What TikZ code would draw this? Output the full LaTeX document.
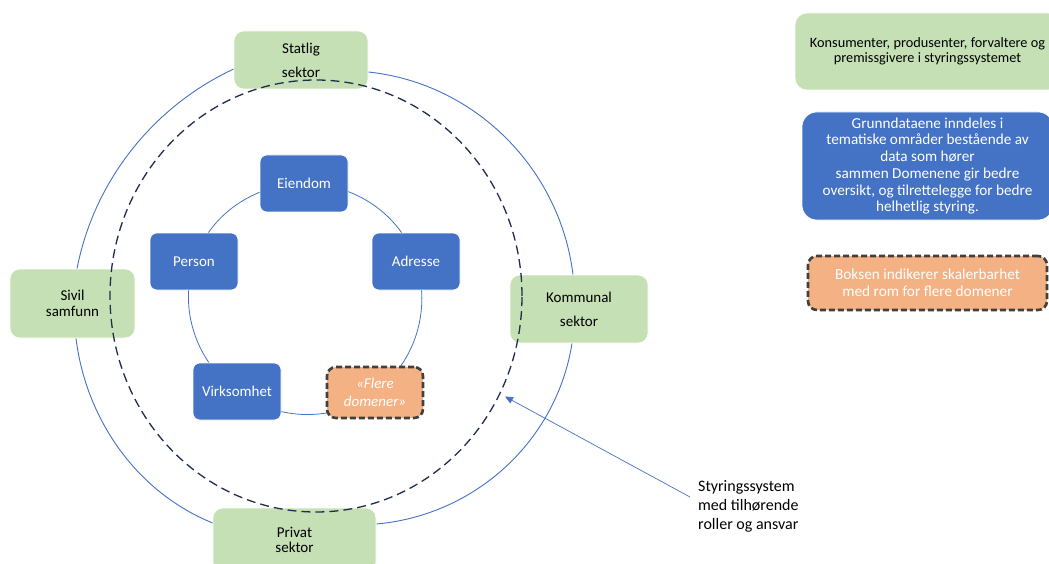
\documentclass[tikz,border=0pt]{standalone}
\usepackage{fontspec}
\setmainfont{Carlito}
\usetikzlibrary{backgrounds,arrows.meta}

\definecolor{sectorgreen}{HTML}{C5E0B4}
\definecolor{domainblue}{HTML}{4472C4}
\definecolor{scaleorange}{HTML}{F4B183}
\definecolor{edgegray}{HTML}{404040}
\definecolor{ringnavy}{HTML}{1F2D4E}

\pgfdeclarelayer{paper}
\pgfsetlayers{paper,background,main}

\tikzset{
  sectorbox/.style={fill=sectorgreen, draw=white, line width=0.6pt,
    rounded corners=10pt, inner sep=0pt, align=center, text=black},
  sectorfont/.style={font=\fontsize{15pt}{#1}\selectfont},
  domainbox/.style={fill=domainblue, draw=white, line width=0.6pt,
    rounded corners=7pt, minimum width=88pt, minimum height=57pt,
    inner sep=0pt, text=white, font=\fontsize{15pt}{18pt}\selectfont},
  scalebox/.style={fill=scaleorange, draw=edgegray, line width=2.6pt,
    dash pattern=on 6pt off 3pt, rounded corners=9pt, inner sep=0pt,
    text=white, align=center},
  ringlink/.style={draw=domainblue, line width=0.8pt, looseness=0.94},
  sectorlink/.style={draw=domainblue, line width=0.9pt},
  govring/.style={draw=ringnavy, line width=1.3pt, dash pattern=on 9pt off 5pt},
}

\begin{document}
\begin{tikzpicture}[x=1pt, y=1pt]
\useasboundingbox (0,0) rectangle (1049,-564);
\begin{pgfonlayer}{paper}
  \fill[white] (0,0) rectangle (1049,-564);
\end{pgfonlayer}

% sectors around the ring
\node[sectorbox, sectorfont=24pt, minimum width=134pt, minimum height=58pt]
  (statlig) at (301,-60) {Statlig\\sektor};
\node[sectorbox, sectorfont=16.5pt, minimum width=125pt, minimum height=69pt]
  (sivil) at (72.5,-303.5) {Sivil\\samfunn};
\node[sectorbox, sectorfont=24pt, minimum width=138pt, minimum height=68pt]
  (kommunal) at (579,-309) {Kommunal\\sektor};
\node[sectorbox, sectorfont=15.5pt, minimum width=163pt, minimum height=64pt]
  (privat) at (294.5,-540) {Privat\\sektor};

% data domains
\node[domainbox] (eiendom) at (304,-183.5) {Eiendom};
\node[domainbox] (adresse) at (416,-261.5) {Adresse};
\node[domainbox] (person) at (194,-261.5) {Person};
\node[domainbox] (virksomhet) at (237,-391.5) {Virksomhet};
\node[scalebox, minimum width=96pt, minimum height=51pt,
  font=\itshape\fontsize{15pt}{18pt}\selectfont]
  (flere) at (375,-392.5) {«Flere\\domener»};

% legend
\node[sectorbox, rounded corners=12pt, minimum width=265pt, minimum height=77pt,
  font=\fontsize{14.3pt}{14.6pt}\selectfont]
  (legendsector) at (927.5,-51.5)
  {Konsumenter, produsenter, forvaltere og\\premissgivere i styringssystemet};
\node[fill=domainblue, draw=white, line width=0.6pt, rounded corners=15pt,
  inner sep=0pt, align=center, text=white, minimum width=251pt, minimum height=108pt,
  font=\fontsize{15.2pt}{16.7pt}\selectfont]
  (legenddomain) at (927.5,-166)
  {Grunndataene inndeles i\\tematiske områder bestående av\\data som hører\\sammen Domenene gir bedre\\oversikt, og tilrettelegge for bedre\\helhetlig styring.};
\node[scalebox, minimum width=239pt, minimum height=54pt,
  font=\fontsize{15.3pt}{16.8pt}\selectfont]
  (legendscale) at (927.5,-283)
  {Boksen indikerer skalerbarhet\\med rom for flere domener};

% governance system ring
\draw[govring] (316,-296) ellipse [x radius=206, y radius=216];

% callout
\node[anchor=west, align=left, inner sep=0pt, font=\fontsize{16pt}{19pt}\selectfont]
  (callout) at (698,-506) {Styringssystem\\med tilhørende\\roller og ansvar};
\coordinate (calltail) at (690,-497);
\coordinate (calltip) at (505,-396.5);
\draw[draw=domainblue, line width=0.7pt, -{Triangle[length=8pt, width=7pt]}]
  (calltail) -- (calltip);

\begin{scope}[on background layer]
  % ring of domains
  \draw[ringlink] (eiendom.center) to[out=0, in=108] (adresse.center);
  \draw[ringlink] (adresse.center) to[out=-72, in=36.5] (flere.center);
  \draw[ringlink] (flere.center) to[out=216.5, in=-36] (virksomhet.center);
  \draw[ringlink] (virksomhet.center) to[out=144, in=252] (person.center);
  \draw[ringlink] (person.center) to[out=72, in=180.5] (eiendom.center);
  % ring of sectors
  \draw[sectorlink] ([yshift=-9pt]statlig.west)
    to[out=205, in=79, looseness=0.90] ([xshift=4.5pt]sivil.north);
  \draw[sectorlink] ([xshift=3.5pt]sivil.south)
    to[out=277, in=158, looseness=0.91] ([yshift=17pt]privat.west);
  \draw[sectorlink] ([yshift=16pt]privat.east)
    to[out=5, in=261, looseness=0.95] ([xshift=-7pt]kommunal.south);
  \draw[sectorlink] ([xshift=-6pt]kommunal.north)
    to[out=97, in=354, looseness=0.95] ([yshift=-12pt]statlig.east);
\end{scope}
\end{tikzpicture}
\end{document}
